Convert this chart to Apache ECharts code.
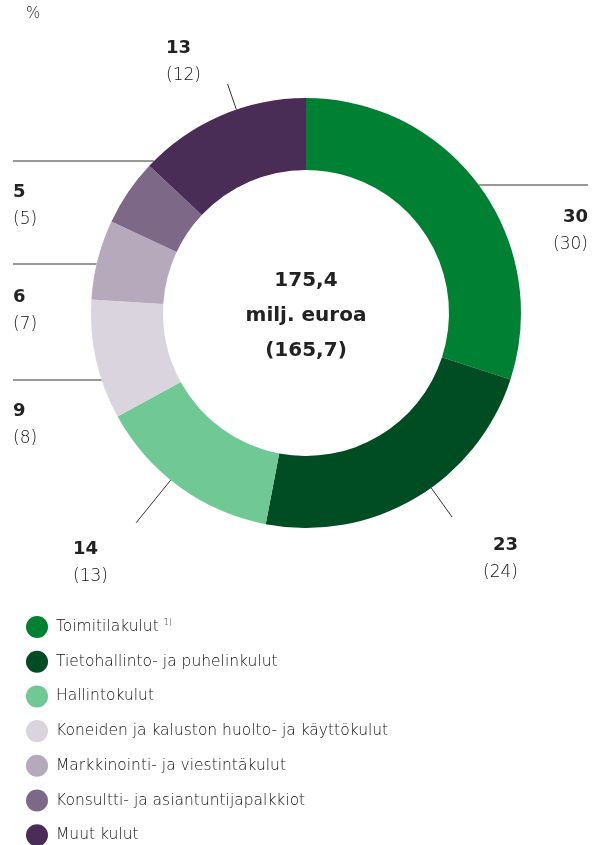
<!DOCTYPE html>
<html>
<head>
<meta charset="utf-8">
<script src="https://cdn.jsdelivr.net/npm/echarts@6/dist/echarts.min.js"></script>
<style>
  html, body { margin: 0; padding: 0; background: #fff; }
  #main { width: 604px; height: 845px; }
</style>
</head>
<body>
<div id="main"></div>
<script>
// data
var categories = [
  'Toimitilakulut',
  'Tietohallinto- ja puhelinkulut',
  'Hallintokulut',
  'Koneiden ja kaluston huolto- ja käyttökulut',
  'Markkinointi- ja viestintäkulut',
  'Konsultti- ja asiantuntijapalkkiot',
  'Muut kulut'
];
var shares = [30, 23, 14, 9, 6, 5, 13];
var sharesPrev = [30, 24, 13, 8, 7, 5, 12];
var totalLines = ['175,4', 'milj. euroa', '(165,7)'];
var unitLabel = '%';

var colors = ['#008033', '#004d23', '#70c994', '#d9d4dd', '#b5a9bb', '#7e6887', '#4a2d56'];
var FONT = '"DejaVu Sans", sans-serif';

// pie geometry
var CX = 306, CY = 313, R0 = 143, R = 215;

// where each label sits, and how its pointer line runs
var spots = [
  { x: 588, y: 203, align: 'right', line: 'h', lineY: 185, lineEnd: 588 },
  { x: 518, y: 531, align: 'right', line: 'r', len: 36, turn: -5 },
  { x: 73, y: 535, align: 'left', line: 'r', len: 55, turn: 3 },
  { x: 13, y: 397, align: 'left', line: 'h', lineY: 380, lineEnd: 13 },
  { x: 13, y: 283, align: 'left', line: 'h', lineY: 264, lineEnd: 13 },
  { x: 13, y: 178, align: 'left', line: 'h', lineY: 161, lineEnd: 13 },
  { x: 166, y: 34, align: 'left', line: 'r', len: 27, turn: 4.5 }
];

var total = shares.reduce(function (a, b) { return a + b; }, 0);

function midAngle(i) {
  var before = 0;
  for (var k = 0; k < i; k++) before += shares[k];
  return (before + shares[i] / 2) / total * 2 * Math.PI; // clockwise from top
}

function linePoints(i) {
  var s = spots[i];
  if (s.line === 'h') {
    var dy = s.lineY - CY;
    var dx = Math.sqrt(R * R - dy * dy);
    var x0 = s.lineEnd > CX ? CX + dx : CX - dx;
    return [[x0, s.lineY], [x0, s.lineY], [s.lineEnd, s.lineY]];
  }
  var a = midAngle(i) + (s.turn || 0) * Math.PI / 180;
  var sx = Math.sin(a), sy = -Math.cos(a);
  var p0 = [CX + R * sx, CY + R * sy];
  var p1 = [CX + (R + s.len) * sx, CY + (R + s.len) * sy];
  return [p0, p1, p1];
}

var myChart = echarts.init(document.getElementById('main'));

var option = {
  animation: false,
  color: colors,
  textStyle: { fontFamily: FONT },
  legend: {
    orient: 'vertical',
    left: 21,
    top: 611,
    height: 240,
    icon: 'circle',
    itemWidth: 22,
    itemHeight: 22,
    itemGap: 12.7,
    selectedMode: false,
    data: categories,
    formatter: function (name) {
      return name === categories[0] ? name + ' {sup|1)}' : name;
    },
    textStyle: {
      fontFamily: FONT,
      fontSize: 15.5,
      fontWeight: 200,
      color: '#111',
      padding: [0, 0, 0, 3],
      rich: {
        sup: { fontSize: 8, verticalAlign: 'top', padding: [0, 0, 8, 0], color: '#111', fontFamily: FONT, fontWeight: 200 }
      }
    }
  },
  graphic: [
    {
      type: 'text',
      left: 26,
      top: 7,
      style: { text: unitLabel, fontSize: 15, fill: '#222', fontFamily: FONT, fontWeight: 200 }
    },
    {
      type: 'text',
      x: CX,
      y: CY + 3,
      style: {
        text: totalLines.join('\n'),
        align: 'center',
        verticalAlign: 'middle',
        fontSize: 20,
        fontWeight: 'bold',
        lineHeight: 35,
        fill: '#222',
        fontFamily: FONT
      }
    }
  ],
  series: [
    {
      type: 'pie',
      center: [CX, CY],
      radius: [R0, R],
      startAngle: 90,
      clockwise: true,
      avoidLabelOverlap: false,
      silent: true,
      data: categories.map(function (name, i) {
        return { name: name, value: shares[i] };
      }),
      label: {
        show: true,
        position: 'outside',
        formatter: function (p) {
          return '{b|' + shares[p.dataIndex] + '}\n{p|(' + sharesPrev[p.dataIndex] + ')}';
        },
        rich: {
          b: { fontSize: 18, fontWeight: 'bold', color: '#222', lineHeight: 28, fontFamily: FONT },
          p: { fontSize: 17, fontWeight: 200, color: '#111', lineHeight: 28, fontFamily: FONT }
        }
      },
      labelLine: {
        show: true,
        lineStyle: { color: '#333', width: 1 }
      },
      labelLayout: function (params) {
        var i = params.dataIndex;
        var s = spots[i];
        return {
          x: s.x,
          y: s.y,
          align: s.align,
          verticalAlign: 'top',
          labelLinePoints: linePoints(i)
        };
      }
    }
  ]
};

myChart.setOption(option);
</script>
</body>
</html>
